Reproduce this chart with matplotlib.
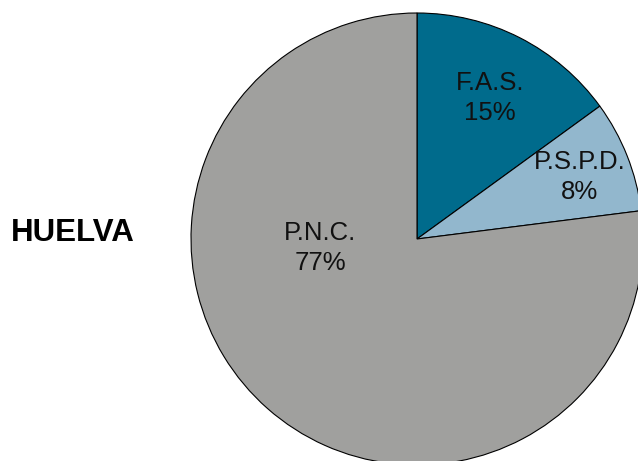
import matplotlib.pyplot as plt

partidos = ['F.A.S.', 'P.S.P.D.', 'P.N.C.']
porcentajes = [15, 8, 77]
colores = ['#006B8C', '#92B7CD', '#A0A09E']
provincia = 'HUELVA'

plt.rcParams['font.family'] = ['Liberation Sans', 'DejaVu Sans']

fig = plt.figure(figsize=(6.38, 4.61), dpi=100)
ax = fig.add_axes([0, 0, 1, 1])

wedges, texts = ax.pie(porcentajes, colors=colores, startangle=90, counterclock=False,
                       center=(417, 222), radius=226,
                       wedgeprops=dict(edgecolor='black', linewidth=0.8))

ax.set_xlim(0, 638)
ax.set_ylim(0, 461)
ax.set_aspect('equal')
ax.axis('off')

# posiciones de las etiquetas (pixeles)
pos = [(490, 363), (580, 284), (320, 213)]
for nombre, pct, (x, y) in zip(partidos, porcentajes, pos):
    ax.text(x, y, f'{nombre}\n{pct}%', ha='center', va='center', fontsize=18.5,
            linespacing=1.3, color='#111111')

ax.text(73, 228, provincia, ha='center', va='center', fontsize=22.5, fontweight='bold')

fig.savefig('out.png', dpi=100)
